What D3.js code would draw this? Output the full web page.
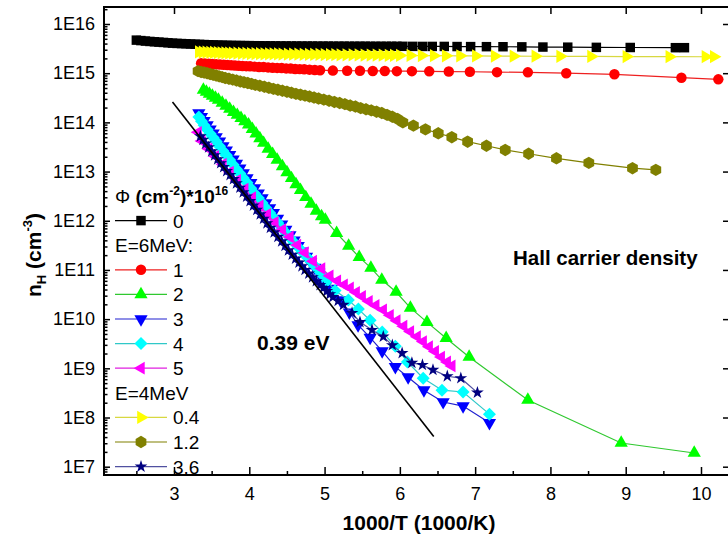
<!DOCTYPE html>
<html>
<head>
<meta charset="utf-8">
<script src="https://cdn.jsdelivr.net/npm/d3@7"></script>
<style>
  body { margin: 0; background: #fff; }
  svg { display: block; font-family: "Liberation Sans", Arial, sans-serif; }
</style>
</head>
<body>
<svg width="728" height="542"></svg>
<script>
// axis ticks
const xTicks = [3, 4, 5, 6, 7, 8, 9, 10];
const xMinorTicks = [2.5, 3.5, 4.5, 5.5, 6.5, 7.5, 8.5, 9.5, 10.5];
const yTicks = [1e7, 1e8, 1e9, 1e10, 1e11, 1e12, 1e13, 1e14, 1e15, 1e16];
const yTickLabels = ['1E7', '1E8', '1E9', '1E10', '1E11', '1E12', '1E13', '1E14', '1E15', '1E16'];

// [1000/T, n_H], one array per fluence
const flu0 = [[2.50,4.7e15],[2.56,4.6e15],[2.62,4.5e15],[2.68,4.42e15],[2.74,4.35e15],[2.80,4.28e15],[2.86,4.22e15],[2.92,4.15e15],[2.98,4.08e15],[3.04,4.03e15],[3.10,4.0e15],[3.16,3.96e15],[3.22,3.92e15],[3.28,3.88e15],[3.34,3.85e15],[3.40,3.82e15],[3.46,3.79e15],[3.52,3.76e15],[3.58,3.73e15],[3.64,3.71e15],[3.70,3.69e15],[3.76,3.67e15],[3.82,3.66e15],[3.88,3.65e15],[3.94,3.64e15],[4.00,3.63e15],[4.07,3.62e15],[4.14,3.61e15],[4.21,3.6e15],[4.28,3.6e15],[4.35,3.59e15],[4.42,3.58e15],[4.49,3.58e15],[4.56,3.57e15],[4.63,3.57e15],[4.70,3.56e15],[4.77,3.56e15],[4.84,3.56e15],[4.91,3.55e15],[4.98,3.55e15],[5.05,3.55e15],[5.12,3.54e15],[5.19,3.54e15],[5.26,3.54e15],[5.33,3.53e15],[5.40,3.53e15],[5.47,3.53e15],[5.54,3.53e15],[5.61,3.52e15],[5.68,3.52e15],[5.75,3.52e15],[5.82,3.52e15],[5.89,3.52e15],[5.96,3.52e15],[6.04,3.52e15],[6.17,3.51e15],[6.30,3.5e15],[6.43,3.5e15],[6.59,3.5e15],[6.76,3.48e15],[6.94,3.47e15],[7.15,3.46e15],[7.37,3.45e15],[7.62,3.43e15],[7.90,3.4e15],[8.23,3.38e15],[8.61,3.35e15],[9.06,3.33e15],[9.66,3.3e15],[9.78,3.3e15]];
const flu1 = [[3.36,1.6e15],[3.41,1.58e15],[3.46,1.56e15],[3.51,1.54e15],[3.56,1.52e15],[3.61,1.5e15],[3.66,1.48e15],[3.71,1.46e15],[3.76,1.45e15],[3.81,1.43e15],[3.86,1.42e15],[3.91,1.4e15],[3.96,1.39e15],[4.01,1.38e15],[4.07,1.36e15],[4.13,1.34e15],[4.19,1.33e15],[4.25,1.31e15],[4.31,1.29e15],[4.37,1.28e15],[4.43,1.27e15],[4.49,1.25e15],[4.55,1.24e15],[4.61,1.22e15],[4.67,1.21e15],[4.73,1.2e15],[4.80,1.18e15],[4.87,1.16e15],[4.94,1.15e15],[5.11,1.13e15],[5.30,1.12e15],[5.47,1.12e15],[5.64,1.11e15],[5.80,1.11e15],[5.96,1.1e15],[6.16,1.1e15],[6.39,1.09e15],[6.65,1.08e15],[6.93,1.07e15],[7.29,1.05e15],[7.70,1.04e15],[8.21,1.0e15],[8.85,9.5e14],[9.74,8.1e14],[10.23,7.5e14]];
const flu2 = [[3.39,4.55e14],[3.43,4.15e14],[3.47,3.8e14],[3.51,3.45e14],[3.55,3.15e14],[3.59,2.85e14],[3.64,2.5e14],[3.69,2.16e14],[3.74,1.87e14],[3.79,1.62e14],[3.84,1.41e14],[3.89,1.22e14],[3.94,1.05e14],[3.99,9.0e13],[4.04,7.3e13],[4.09,5.9e13],[4.14,4.7e13],[4.19,3.8e13],[4.25,2.9e13],[4.31,2.25e13],[4.37,1.73e13],[4.44,1.27e13],[4.50,9.6e12],[4.56,7.3e12],[4.62,5.5e12],[4.68,4.2e12],[4.75,3.0e12],[4.82,2.2e12],[4.89,1.58e12],[4.96,1.23e12],[5.01,1.04e12],[5.16,5.6e11],[5.32,3.07e11],[5.46,1.82e11],[5.615,1.1e11],[5.76,6.3e10],[5.95,3.56e10],[6.14,1.69e10],[6.36,8.7e9],[6.615,4.1e9],[6.92,1.7e9],[7.70,2.27e8],[8.94,3.03e7],[9.91,1.9e7]];
const flu3 = [[3.33,1.55e14],[3.365,1.29e14],[3.40,1.07e14],[3.44,8.8e13],[3.48,7.2e13],[3.52,6.0e13],[3.56,5.0e13],[3.605,4.1e13],[3.65,3.3e13],[3.695,2.7e13],[3.74,2.19e13],[3.785,1.78e13],[3.83,1.45e13],[3.875,1.16e13],[3.92,9.3e12],[3.97,7.4e12],[4.02,5.9e12],[4.07,4.6e12],[4.12,3.6e12],[4.17,2.9e12],[4.22,2.3e12],[4.27,1.82e12],[4.32,1.45e12],[4.375,1.11e12],[4.43,8.5e11],[4.485,6.6e11],[4.54,5.1e11],[4.595,4.0e11],[4.65,3.1e11],[4.705,2.4e11],[4.76,1.86e11],[4.815,1.45e11],[4.87,1.12e11],[4.925,8.8e10],[4.98,6.9e10],[5.035,5.4e10],[5.09,4.2e10],[5.21,2.45e10],[5.33,1.38e10],[5.445,7.6e9],[5.605,4.2e9],[5.765,2.24e9],[5.94,1.07e9],[6.11,6.6e8],[6.32,3.6e8],[6.575,2.07e8],[6.84,1.71e8],[7.19,7.8e7]];
const flu4 = [[3.33,1.29e14],[3.365,1.06e14],[3.40,8.7e13],[3.44,7.2e13],[3.48,5.9e13],[3.52,4.9e13],[3.56,4.07e13],[3.605,3.27e13],[3.65,2.63e13],[3.695,2.14e13],[3.74,1.72e13],[3.785,1.38e13],[3.83,1.12e13],[3.875,9.1e12],[3.92,7.4e12],[3.97,5.9e12],[4.02,4.6e12],[4.07,3.6e12],[4.12,2.9e12],[4.17,2.3e12],[4.22,1.82e12],[4.27,1.46e12],[4.32,1.17e12],[4.375,9.2e11],[4.43,7.2e11],[4.485,5.7e11],[4.54,4.5e11],[4.595,3.6e11],[4.65,2.9e11],[4.705,2.3e11],[4.76,1.86e11],[4.815,1.5e11],[4.87,1.2e11],[4.925,9.5e10],[4.98,7.6e10],[5.035,6.0e10],[5.14,3.8e10],[5.316,2.45e10],[5.449,1.6e10],[5.605,9.5e9],[5.765,5.5e9],[5.94,2.8e9],[6.10,1.35e9],[6.31,6.3e8],[6.56,3.6e8],[6.84,3.3e8],[7.19,1.17e8]];
const flu5 = [[3.32,6.3e13],[3.37,4.2e13],[3.46,2.9e13],[3.55,2.04e13],[3.65,1.41e13],[3.745,9.8e12],[3.84,6.6e12],[3.94,4.4e12],[4.04,2.95e12],[4.14,2.0e12],[4.24,1.35e12],[4.34,9.3e11],[4.44,6.6e11],[4.54,4.7e11],[4.64,3.2e11],[4.74,2.24e11],[4.85,1.51e11],[4.96,1.07e11],[5.07,7.6e10],[5.17,6.0e10],[5.26,5.0e10],[5.34,4.3e10],[5.42,3.5e10],[5.50,2.9e10],[5.59,2.3e10],[5.68,1.9e10],[5.78,1.55e10],[5.87,1.2e10],[5.96,9.3e9],[6.05,7.2e9],[6.14,5.6e9],[6.23,4.4e9],[6.31,3.5e9],[6.39,2.75e9],[6.47,2.2e9],[6.55,1.7e9],[6.63,1.35e9],[6.69,1.12e9]];
const flu04 = [[3.33,2.7e15],[3.38,2.69e15],[3.43,2.67e15],[3.48,2.65e15],[3.53,2.64e15],[3.58,2.62e15],[3.63,2.6e15],[3.68,2.59e15],[3.73,2.57e15],[3.78,2.56e15],[3.84,2.55e15],[3.90,2.54e15],[3.96,2.52e15],[4.02,2.51e15],[4.08,2.5e15],[4.14,2.49e15],[4.20,2.48e15],[4.26,2.47e15],[4.32,2.47e15],[4.38,2.46e15],[4.44,2.45e15],[4.51,2.44e15],[4.58,2.44e15],[4.65,2.43e15],[4.72,2.42e15],[4.79,2.41e15],[4.86,2.41e15],[4.93,2.4e15],[5.00,2.39e15],[5.07,2.38e15],[5.14,2.38e15],[5.21,2.37e15],[5.29,2.36e15],[5.37,2.36e15],[5.45,2.35e15],[5.53,2.34e15],[5.61,2.33e15],[5.69,2.33e15],[5.77,2.32e15],[5.85,2.31e15],[5.92,2.31e15],[6.00,2.3e15],[6.14,2.29e15],[6.29,2.28e15],[6.45,2.27e15],[6.61,2.26e15],[6.80,2.25e15],[7.01,2.24e15],[7.26,2.23e15],[7.51,2.22e15],[7.80,2.21e15],[8.13,2.2e15],[8.54,2.19e15],[9.01,2.18e15],[9.58,2.17e15],[10.06,2.16e15],[10.17,2.16e15]];
const flu12 = [[3.32,1.1e15],[3.36,1.06e15],[3.40,1.03e15],[3.44,1.0e15],[3.48,9.6e14],[3.52,9.3e14],[3.56,9.0e14],[3.60,8.6e14],[3.64,8.3e14],[3.68,8.0e14],[3.73,7.7e14],[3.78,7.4e14],[3.83,7.1e14],[3.88,6.8e14],[3.93,6.55e14],[3.98,6.3e14],[4.03,6.05e14],[4.08,5.8e14],[4.14,5.55e14],[4.20,5.3e14],[4.26,5.05e14],[4.32,4.8e14],[4.38,4.6e14],[4.44,4.4e14],[4.50,4.2e14],[4.56,4.0e14],[4.62,3.8e14],[4.68,3.65e14],[4.74,3.5e14],[4.80,3.35e14],[4.86,3.2e14],[4.92,3.05e14],[4.99,2.9e14],[5.06,2.75e14],[5.13,2.6e14],[5.20,2.48e14],[5.27,2.35e14],[5.34,2.2e14],[5.41,2.1e14],[5.48,1.95e14],[5.55,1.85e14],[5.62,1.75e14],[5.69,1.65e14],[5.76,1.55e14],[5.83,1.42e14],[5.90,1.3e14],[5.97,1.17e14],[6.04,1.0e14],[6.18,8.6e13],[6.34,7.2e13],[6.51,6.0e13],[6.69,5.0e13],[6.90,4.05e13],[7.15,3.35e13],[7.40,2.75e13],[7.71,2.3e13],[8.08,1.86e13],[8.51,1.5e13],[9.09,1.17e13],[9.40,1.08e13]];
const flu36 = [[3.35,5.2e13],[3.385,4.4e13],[3.42,3.7e13],[3.46,3.1e13],[3.50,2.57e13],[3.54,2.14e13],[3.58,1.78e13],[3.62,1.48e13],[3.66,1.23e13],[3.70,1.02e13],[3.745,8.5e12],[3.79,7.0e12],[3.83,5.75e12],[3.875,4.7e12],[3.92,3.8e12],[3.965,3.1e12],[4.01,2.5e12],[4.055,2.04e12],[4.10,1.66e12],[4.145,1.35e12],[4.19,1.1e12],[4.235,8.9e11],[4.28,7.2e11],[4.33,5.8e11],[4.38,4.7e11],[4.43,3.8e11],[4.475,3.1e11],[4.52,2.5e11],[4.57,2.04e11],[4.615,1.7e11],[4.66,1.41e11],[4.70,1.19e11],[4.74,1.0e11],[4.79,8.4e10],[4.84,7.1e10],[4.89,5.9e10],[4.94,4.9e10],[4.985,4.3e10],[5.03,3.7e10],[5.07,3.2e10],[5.11,2.8e10],[5.18,2.35e10],[5.25,1.95e10],[5.365,1.33e10],[5.47,8.7e9],[5.63,6.0e9],[5.78,4.4e9],[5.90,2.95e9],[6.03,2.04e9],[6.16,1.29e9],[6.30,1.17e9],[6.44,9.3e8],[6.63,6.9e8],[6.81,6.3e8],[7.03,3.2e8]];

// 0.39 eV guide line
const fitLine = [[2.98, 2.6e14], [6.45, 4.1e7]];

const series = [
  { label: '0',   color: '#000000', line: '#000000', shape: 'square',  data: flu0 },
  { label: '1',   color: '#ff0000', line: '#ee2020', shape: 'circle',  data: flu1 },
  { label: '2',   color: '#00ff00', line: '#30c830', shape: 'up',      data: flu2 },
  { label: '3',   color: '#0000ff', line: '#2020d0', shape: 'down',    data: flu3 },
  { label: '4',   color: '#00ffff', line: '#30c8c8', shape: 'diamond', data: flu4 },
  { label: '5',   color: '#ff00ff', line: '#e020e0', shape: 'left',    data: flu5 },
  { label: '0.4', color: '#ffff00', line: '#d8d840', shape: 'right',   data: flu04 },
  { label: '1.2', color: '#808000', line: '#808000', shape: 'hexagon', data: flu12 },
  { label: '3.6', color: '#000080', line: '#5050a0', shape: 'star',    data: flu36 }
];

const svg = d3.select('svg');
const frameL = 104, frameR = 729, frameT = 7, frameB = 475;

const x = d3.scaleLinear().domain([3, 10]).range([174, 701]);
const y = d3.scaleLog().domain([1e7, 1e16]).range([466.7, 24]);

// marker shapes
const hexPath = (() => {
  const p = d3.path();
  for (let k = 0; k < 6; k++) {
    const a = Math.PI / 6 + k * Math.PI / 3;
    const px = 6.2 * Math.cos(a), py = 6.2 * Math.sin(a);
    k === 0 ? p.moveTo(px, py) : p.lineTo(px, py);
  }
  p.closePath();
  return p.toString();
})();
function marker(shape) {
  switch (shape) {
    case 'square':  return { d: d3.symbol(d3.symbolSquare, 90)(), rot: 0 };
    case 'circle':  return { d: d3.symbol(d3.symbolCircle, 86)(), rot: 0 };
    case 'up':      return { d: d3.symbol(d3.symbolTriangle, 76)(), rot: 0 };
    case 'down':    return { d: d3.symbol(d3.symbolTriangle, 76)(), rot: 180 };
    case 'left':    return { d: d3.symbol(d3.symbolTriangle, 70)(), rot: -90 };
    case 'right':   return { d: d3.symbol(d3.symbolTriangle, 76)(), rot: 90 };
    case 'diamond': return { d: d3.symbol(d3.symbolSquare, 84)(), rot: 45 };
    case 'hexagon': return { d: hexPath, rot: 0 };
    case 'star':    return { d: d3.symbol(d3.symbolStar, 50)(), rot: 0 };
  }
}

svg.append('clipPath').attr('id', 'plotArea')
  .append('rect').attr('x', frameL).attr('y', frameT)
  .attr('width', frameR - frameL).attr('height', frameB - frameT);

const plot = svg.append('g').attr('clip-path', 'url(#plotArea)');

const line = d3.line().x(d => x(d[0])).y(d => y(d[1]));

// data, drawn in legend order
series.forEach(s => {
  const m = marker(s.shape);
  const g = plot.append('g');
  g.append('path').attr('d', line(s.data))
    .attr('fill', 'none').attr('stroke', s.line).attr('stroke-width', 1.2);
  g.selectAll('path.mk').data(s.data).join('path').attr('class', 'mk')
    .attr('d', m.d)
    .attr('transform', d => `translate(${x(d[0])},${y(d[1])}) rotate(${m.rot})`)
    .attr('fill', s.color);
});

plot.append('path').attr('d', line(fitLine))
  .attr('fill', 'none').attr('stroke', '#000').attr('stroke-width', 1.6);

// axes
const yMinor = [];
for (let k = 6; k <= 16; k++) for (let m = 2; m <= 9; m++) yMinor.push(m * Math.pow(10, k));
const yMinorIn = yMinor.filter(v => y(v) <= frameB && y(v) >= frameT);

function styleAxis(g) {
  g.select('.domain').remove();
  g.attr('font-family', null).attr('font-size', 18);
  g.selectAll('line').attr('stroke-width', 1.5);
  g.selectAll('text').attr('fill', '#000');
}

svg.append('g').attr('transform', `translate(0,${frameB})`)
  .call(d3.axisBottom(x).tickValues(xTicks).tickSize(-8).tickPadding(12).tickFormat(d3.format('d')))
  .call(styleAxis);
svg.append('g').attr('transform', `translate(0,${frameB})`)
  .call(d3.axisBottom(x).tickValues(xMinorTicks).tickSize(-4).tickFormat(''))
  .call(styleAxis);
svg.append('g').attr('transform', `translate(0,${frameT})`)
  .call(d3.axisTop(x).tickValues(xTicks).tickSize(-7).tickFormat(''))
  .call(styleAxis);

svg.append('g').attr('transform', `translate(${frameL},0)`)
  .call(d3.axisLeft(y).tickValues(yTicks).tickSize(-6).tickPadding(9).tickFormat((d, i) => yTickLabels[i]))
  .call(styleAxis);
svg.append('g').attr('transform', `translate(${frameL},0)`)
  .call(d3.axisLeft(y).tickValues(yMinorIn).tickSize(-3.5).tickFormat(''))
  .call(styleAxis);
svg.append('g').attr('transform', `translate(${frameR},0)`)
  .call(d3.axisRight(y).tickValues(yTicks).tickSize(-6).tickFormat(''))
  .call(styleAxis);

svg.append('rect').attr('x', frameL).attr('y', frameT)
  .attr('width', frameR - frameL).attr('height', frameB - frameT)
  .attr('fill', 'none').attr('stroke', '#000').attr('stroke-width', 2);

// axis titles
svg.append('text').attr('x', 419).attr('y', 530)
  .attr('text-anchor', 'middle').attr('font-size', 21).attr('font-weight', 'bold')
  .text('1000/T (1000/K)');

const yTitle = svg.append('text').attr('transform', 'translate(41,255) rotate(-90)')
  .attr('text-anchor', 'middle').attr('font-size', 21).attr('font-weight', 'bold');
yTitle.append('tspan').text('n');
yTitle.append('tspan').attr('font-size', 13).attr('dy', 5).text('H');
yTitle.append('tspan').attr('dy', -5).text(' (cm');
yTitle.append('tspan').attr('font-size', 13).attr('dy', -9).text('-3');
yTitle.append('tspan').attr('dy', 9).text(')');

// annotations
svg.append('text').attr('x', 257).attr('y', 350)
  .attr('font-size', 21).attr('font-weight', 'bold').text('0.39 eV');
svg.append('text').attr('x', 513).attr('y', 265)
  .attr('font-size', 20.5).attr('font-weight', 'bold').text('Hall carrier density');

// legend
const legendRows = ['title', '0', 'E=6MeV:', '1', '2', '3', '4', '5', 'E=4MeV', '0.4', '1.2', '3.6'];
const legend = svg.append('g').attr('font-size', 19);
legendRows.forEach((row, i) => {
  const cy = 196 + i * 24.6;
  if (row === 'title') {
    const t = legend.append('text').attr('x', 115).attr('y', cy + 7);
    t.append('tspan').text('\u03A6 ');
    t.append('tspan').attr('font-weight', 'bold').text('(cm');
    t.append('tspan').attr('font-weight', 'bold').attr('font-size', 12).attr('dy', -8).text('-2');
    t.append('tspan').attr('font-weight', 'bold').attr('dy', 8).text(')*10');
    t.append('tspan').attr('font-weight', 'bold').attr('font-size', 12).attr('dy', -8).text('16');
    return;
  }
  const s = series.find(d => d.label === row);
  if (!s) {
    legend.append('text').attr('x', 115).attr('y', cy + 7).text(row);
    return;
  }
  const m = marker(s.shape);
  legend.append('line').attr('x1', 115).attr('x2', 167).attr('y1', cy).attr('y2', cy)
    .attr('stroke', s.line).attr('stroke-width', 1.2);
  legend.append('path').attr('d', m.d)
    .attr('transform', `translate(141,${cy}) rotate(${m.rot})`).attr('fill', s.color);
  legend.append('text').attr('x', 173).attr('y', cy + 7).text(row);
});
</script>
</body>
</html>
